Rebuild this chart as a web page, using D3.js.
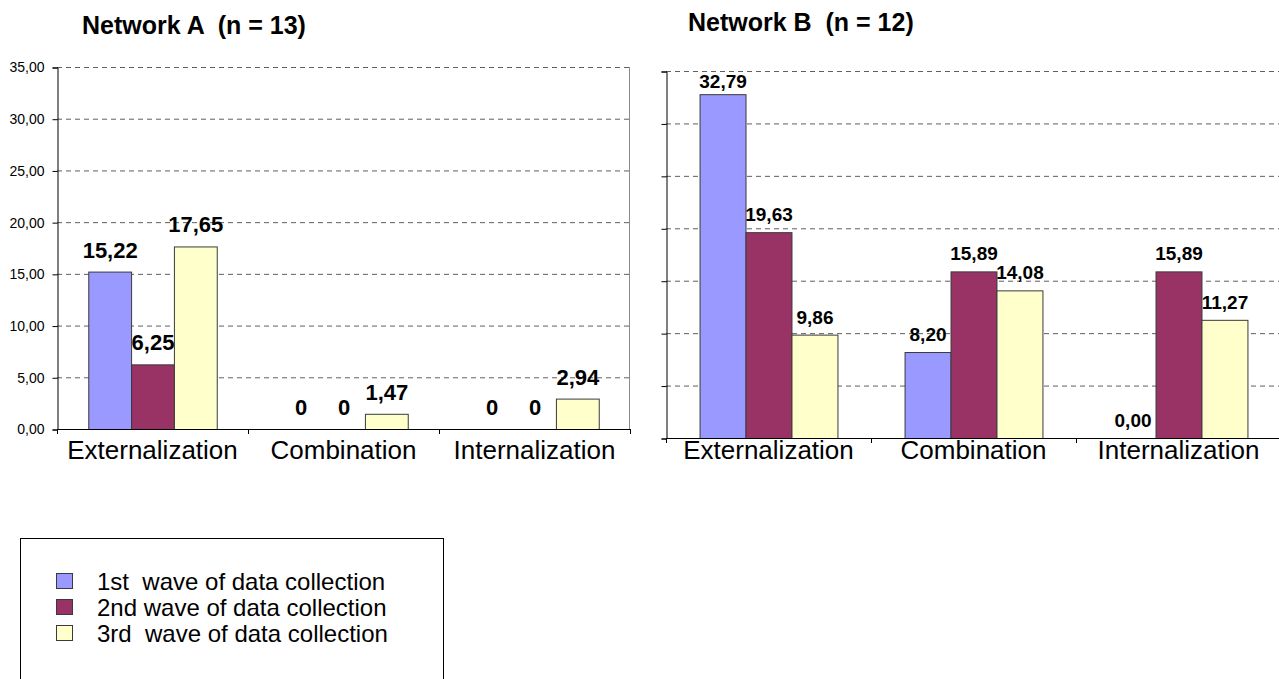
<!DOCTYPE html>
<html>
<head>
<meta charset="utf-8">
<script src="https://cdn.jsdelivr.net/npm/d3@7"></script>
<style>
  html, body { margin: 0; padding: 0; background: #fff; }
  svg { display: block; font-family: "Liberation Sans", Arial, sans-serif; }
</style>
</head>
<body>
<svg id="chart" width="1279" height="679"></svg>
<script>
// Knowledge-conversion modes measured in each network, per wave of data collection
const categories = ["Externalization", "Combination", "Internalization"];
const waves = ["1st  wave of data collection", "2nd wave of data collection", "3rd  wave of data collection"];
const waveColors = ["#9999FF", "#993366", "#FFFFCC"];

const networkA_wave1 = [15.22, 0, 0];
const networkA_wave2 = [6.25, 0, 0];
const networkA_wave3 = [17.65, 1.47, 2.94];

const networkB_wave1 = [32.79, 8.20, 0.00];
const networkB_wave2 = [19.63, 15.89, 15.89];
const networkB_wave3 = [9.86, 14.08, 11.27];

const yTicks = [0, 5, 10, 15, 20, 25, 30, 35];
const yMax = 35;

const svg = d3.select("#chart");
const commaFmt = v => d3.format(".2f")(v).replace(".", ",");

function drawPanel(cfg) {
  const g = svg.append("g");
  const x = d3.scaleBand().domain(categories).range([cfg.left, cfg.right]);
  // three bars per category, clustered in the middle of each band
  const xi = d3.scaleBand().domain([0, 1, 2]).range([0, x.bandwidth()]).paddingOuter(0.73);
  const y = d3.scaleLinear().domain([0, yMax]).range([cfg.bottom, cfg.top]);

  // Dashed gridlines
  g.append("g").selectAll("line").data(yTicks.filter(t => t > 0)).join("line")
    .attr("x1", cfg.left).attr("x2", cfg.right)
    .attr("y1", d => y(d) + 0.5).attr("y2", d => y(d) + 0.5)
    .attr("stroke", "#5f5f5f").attr("stroke-width", 1)
    .attr("stroke-dasharray", "5,4");

  if (cfg.border) {
    g.append("line")
      .attr("x1", cfg.right - 0.5).attr("x2", cfg.right - 0.5)
      .attr("y1", y(yMax)).attr("y2", cfg.bottom)
      .attr("stroke", "#8c8c8c");
  }

  // Bars
  const series = cfg.series;
  series.forEach((vals, s) => {
    g.append("g").selectAll("rect").data(vals).join("rect")
      .attr("x", (d, i) => x(categories[i]) + xi(s) + 0.5)
      .attr("width", xi.bandwidth())
      .attr("y", d => y(d) + 0.5)
      .attr("height", d => Math.max(0, cfg.bottom - y(d)))
      .attr("fill", waveColors[s])
      .attr("stroke", d => d > 0 ? "#3a3a3a" : "none")
      .attr("stroke-width", 1);
  });

  // Y axis
  const yAxis = d3.axisLeft(y).tickValues(yTicks).tickSize(5)
    .tickFormat(cfg.showYLabels ? commaFmt : "");
  const ya = g.append("g").attr("transform", `translate(${cfg.left + 0.5},0.5)`).call(yAxis);
  ya.select(".domain").attr("stroke", "#000");
  ya.selectAll(".tick line").attr("stroke", "#000");
  ya.selectAll(".tick text").attr("font-size", 14).attr("fill", "#000")
    .attr("font-family", "Liberation Sans, Arial, sans-serif").attr("dx", -5);

  // X axis line with ticks at category boundaries
  const bounds = [cfg.left, ...categories.map(c => x(c) + x.bandwidth())];
  g.append("line").attr("x1", cfg.left).attr("x2", cfg.right)
    .attr("y1", cfg.bottom + 0.5).attr("y2", cfg.bottom + 0.5).attr("stroke", "#000");
  g.append("g").selectAll("line").data(bounds).join("line")
    .attr("x1", d => d + 0.5).attr("x2", d => d + 0.5)
    .attr("y1", cfg.bottom).attr("y2", cfg.bottom + 5).attr("stroke", "#000");

  // Category labels
  g.append("g").selectAll("text").data(categories).join("text")
    .attr("x", d => x(d) + x.bandwidth() / 2)
    .attr("y", cfg.catY)
    .attr("text-anchor", "middle")
    .attr("font-size", cfg.catSize)
    .text(d => d);

  // Value labels
  series.forEach((vals, s) => {
    g.append("g").selectAll("text").data(vals).join("text")
      .attr("x", (d, i) => x(categories[i]) + xi(s) + xi.bandwidth() / 2 + 0.5)
      .attr("y", d => Math.max(y(d) - cfg.labelGap, cfg.top + cfg.labelSize - 2))
      .attr("text-anchor", "middle")
      .attr("font-size", cfg.labelSize)
      .attr("font-weight", "bold")
      .text(d => cfg.labelFmt(d));
  });

  // Title
  g.append("text")
    .attr("x", cfg.titleX).attr("y", cfg.titleY)
    .attr("font-size", 25).attr("font-weight", "bold")
    .style("white-space", "pre")
    .text(cfg.title);
}

drawPanel({
  title: "Network A  (n = 13)", titleX: 82, titleY: 34,
  left: 57, right: 630, top: 67, bottom: 429,
  series: [networkA_wave1, networkA_wave2, networkA_wave3],
  showYLabels: true, border: true,
  labelSize: 22, labelGap: 14,
  labelFmt: v => v === 0 ? "0" : commaFmt(v),
  catY: 459, catSize: 26
});

drawPanel({
  title: "Network B  (n = 12)", titleX: 688, titleY: 31,
  left: 666, right: 1281, top: 71, bottom: 438,
  series: [networkB_wave1, networkB_wave2, networkB_wave3],
  showYLabels: false, border: false,
  labelSize: 19, labelGap: 11,
  labelFmt: commaFmt,
  catY: 459, catSize: 26
});

// Legend
const leg = svg.append("g");
leg.append("rect").attr("x", 20.5).attr("y", 538.5).attr("width", 423).attr("height", 160)
  .attr("fill", "#fff").attr("stroke", "#000");
const row = leg.selectAll("g.item").data(waves).join("g").attr("class", "item")
  .attr("transform", (d, i) => `translate(0,${581 + i * 26})`);
row.append("rect").attr("x", 56.5).attr("y", -7.5).attr("width", 16).attr("height", 15)
  .attr("fill", (d, i) => waveColors[i]).attr("stroke", "#3a3a3a");
row.append("text").attr("x", 97).attr("y", 8.5).attr("font-size", 24)
  .style("white-space", "pre").text(d => d);
</script>
</body>
</html>
